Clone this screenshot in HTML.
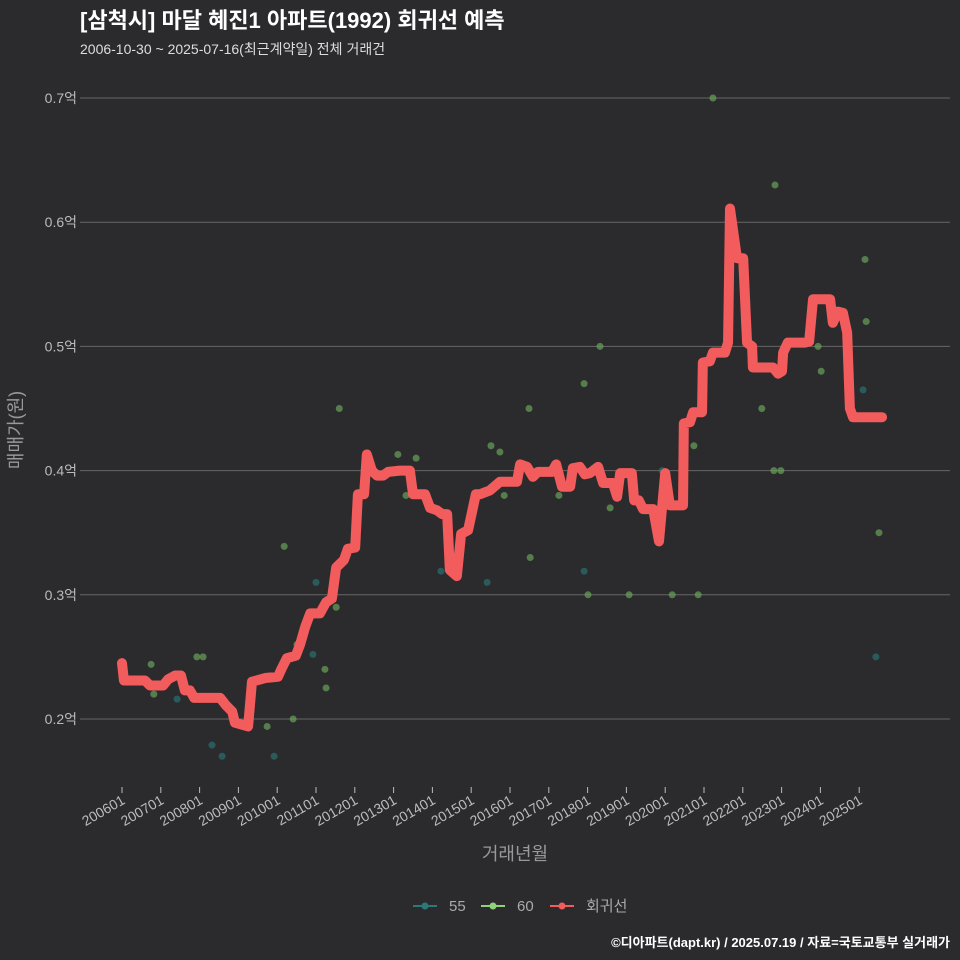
<!DOCTYPE html>
<html><head><meta charset="utf-8"><style>
html,body{margin:0;padding:0;width:960px;height:960px;overflow:hidden;background:#2b2b2d;font-family:"Liberation Sans","Noto Sans CJK KR",sans-serif;}
svg{display:block;}
svg text{font-family:"Liberation Sans","Noto Sans CJK KR",sans-serif;}
</style></head><body>
<svg width="960" height="960">
<rect width="960" height="960" fill="#2b2b2d"/>
<text x="80" y="28" fill="#fff" font-size="22" font-weight="bold">[삼척시] 마달 혜진1 아파트(1992) 회귀선 예측</text>
<text x="80" y="54" fill="#ddd" font-size="14">2006-10-30 ~ 2025-07-16(최근계약일) 전체 거래건</text>
<g id="grid"></g><g id="pts"></g><g id="line"></g><g id="axes"></g>
<text x="515" y="860" fill="#999" font-size="18" text-anchor="middle">거래년월</text>
<text transform="translate(22,430) rotate(-90)" fill="#999" font-size="18" text-anchor="middle">매매가(원)</text>
<g font-size="15" fill="#aaa">
<g><line x1="413" y1="906" x2="437" y2="906" stroke="#2a7a7a" stroke-width="2"/><circle cx="425" cy="906" r="3.5" fill="#2a7a7a"/><text x="449" y="911">55</text></g>
<g><line x1="481" y1="906" x2="505" y2="906" stroke="#8fd17a" stroke-width="2"/><circle cx="493" cy="906" r="3.5" fill="#8fd17a"/><text x="517" y="911">60</text></g>
<g><line x1="550" y1="906" x2="574" y2="906" stroke="#f25c5c" stroke-width="2"/><circle cx="562" cy="906" r="3.5" fill="#f25c5c"/><text x="586" y="911">회귀선</text></g>
</g>
<text x="950" y="947" fill="#fff" font-size="13" font-weight="bold" text-anchor="end">©디아파트(dapt.kr) / 2025.07.19 / 자료=국토교통부 실거래가</text>
</svg>
<script>
const yTicks=[0.2,0.3,0.4,0.5,0.6,0.7];
const yTickLabels=["0.2억","0.3억","0.4억","0.5억","0.6억","0.7억"];
const xTickYears=[2006,2007,2008,2009,2010,2011,2012,2013,2014,2015,2016,2017,2018,2019,2020,2021,2022,2023,2024,2025];
const xTickLabels=["200601","200701","200801","200901","201001","201101","201201","201301","201401","201501","201601","201701","201801","201901","202001","202101","202201","202301","202401","202501"];
const lineDates=[2006.0,2006.05,2006.59,2006.72,2007.06,2007.19,2007.37,2007.52,2007.62,2007.75,2007.86,2008.53,2008.68,2008.84,2008.91,2009.25,2009.35,2009.69,2010.02,2010.12,2010.25,2010.48,2010.59,2010.72,2010.85,2011.10,2011.26,2011.41,2011.52,2011.72,2011.82,2012.01,2012.08,2012.24,2012.31,2012.44,2012.57,2012.73,2012.86,2013.16,2013.42,2013.50,2013.81,2013.94,2014.12,2014.25,2014.38,2014.45,2014.63,2014.74,2014.92,2015.12,2015.23,2015.48,2015.74,2016.18,2016.26,2016.44,2016.59,2016.72,2017.08,2017.19,2017.34,2017.55,2017.62,2017.80,2017.93,2018.06,2018.27,2018.40,2018.65,2018.76,2018.84,2019.14,2019.20,2019.32,2019.43,2019.69,2019.84,2020.00,2020.12,2020.46,2020.48,2020.64,2020.72,2020.95,2020.97,2021.15,2021.23,2021.54,2021.62,2021.67,2021.85,2022.01,2022.11,2022.24,2022.26,2022.78,2022.91,2023.01,2023.04,2023.16,2023.60,2023.71,2023.81,2024.25,2024.32,2024.45,2024.58,2024.69,2024.76,2024.84,2025.59];
const lineValues=[0.245,0.231,0.231,0.227,0.227,0.232,0.235,0.235,0.223,0.223,0.217,0.217,0.211,0.206,0.197,0.194,0.230,0.233,0.234,0.241,0.249,0.251,0.260,0.274,0.285,0.285,0.294,0.297,0.322,0.328,0.337,0.338,0.381,0.381,0.413,0.400,0.396,0.396,0.399,0.400,0.400,0.381,0.381,0.370,0.368,0.365,0.365,0.320,0.315,0.349,0.352,0.381,0.381,0.384,0.391,0.391,0.405,0.403,0.395,0.399,0.399,0.405,0.387,0.387,0.402,0.403,0.397,0.398,0.403,0.390,0.390,0.379,0.398,0.398,0.376,0.376,0.369,0.369,0.343,0.398,0.372,0.372,0.438,0.439,0.447,0.447,0.487,0.488,0.495,0.495,0.503,0.611,0.571,0.571,0.503,0.500,0.483,0.483,0.478,0.480,0.495,0.503,0.503,0.504,0.538,0.538,0.519,0.528,0.527,0.511,0.450,0.443,0.443];
const ptDates=[2006.75,2006.82,2007.42,2007.93,2008.09,2008.32,2008.58,2009.74,2009.92,2010.18,2010.41,2010.51,2010.92,2011.00,2011.23,2011.26,2011.52,2011.60,2013.11,2013.32,2013.58,2014.22,2015.41,2015.51,2015.74,2015.85,2016.49,2016.52,2017.26,2017.91,2017.91,2018.01,2018.32,2018.58,2019.07,2019.92,2020.18,2020.74,2020.85,2021.23,2022.49,2022.80,2022.83,2022.98,2023.94,2024.02,2025.10,2025.15,2025.18,2025.43,2025.51];
const ptValues=[0.244,0.220,0.216,0.250,0.250,0.179,0.170,0.194,0.170,0.339,0.200,0.260,0.252,0.310,0.240,0.225,0.290,0.450,0.413,0.380,0.410,0.319,0.310,0.420,0.415,0.380,0.450,0.330,0.380,0.470,0.319,0.300,0.500,0.370,0.300,0.400,0.300,0.420,0.300,0.700,0.450,0.400,0.630,0.400,0.500,0.480,0.465,0.570,0.520,0.250,0.350];
const ptAreas=[60,60,55,60,60,55,55,60,55,60,60,60,55,55,60,60,60,60,60,60,60,55,55,60,60,60,60,60,60,60,55,60,60,60,60,55,60,60,60,60,60,60,60,60,60,60,55,60,60,55,60];
const X=d=>122+(d-2006)*38.8, Y=v=>719-(v-0.2)*1242;
const NS="http://www.w3.org/2000/svg";
function mk(t,a,p){const e=document.createElementNS(NS,t);for(const k in a)e.setAttribute(k,a[k]);p.appendChild(e);return e;}
const grid=document.getElementById('grid'),axes=document.getElementById('axes');
yTicks.forEach((v,i)=>{
 const l=mk('line',{x1:80,x2:950,y1:Y(v),y2:Y(v),stroke:'#666','stroke-width':1},grid);
 
 
 const t=mk('text',{x:77,y:Y(v)+5,fill:'#bbb','font-size':14,'text-anchor':'end'},axes);
 t.textContent=yTickLabels[i];
 
 
});
xTickYears.forEach((d,i)=>{
 const x=X(d);
 const tk=mk('line',{x1:x,x2:x,y1:787,y2:793,stroke:'#bbb','stroke-width':1},axes);
 
 
 const t=mk('text',{transform:`translate(${x+4},${803}) rotate(-30)`,fill:'#bbb','font-size':14,'text-anchor':'end'},axes);
 t.textContent=xTickLabels[i];
 
 
});
const pts=document.getElementById('pts');
ptDates.forEach((d,i)=>{
 const c=mk('circle',{cx:X(d),cy:Y(ptValues[i]),r:3.5,fill:ptAreas[i]==55?'#2a7070':'#6aa35a','fill-opacity':0.7},pts);
 
 
});
const p=mk('polyline',{points:lineDates.map((d,i)=>X(d)+','+Y(lineValues[i])).join(' '),fill:'none',stroke:'#f25c5c','stroke-width':10,'stroke-linejoin':'round','stroke-linecap':'round'},document.getElementById('line'));


</script>
</body></html>
